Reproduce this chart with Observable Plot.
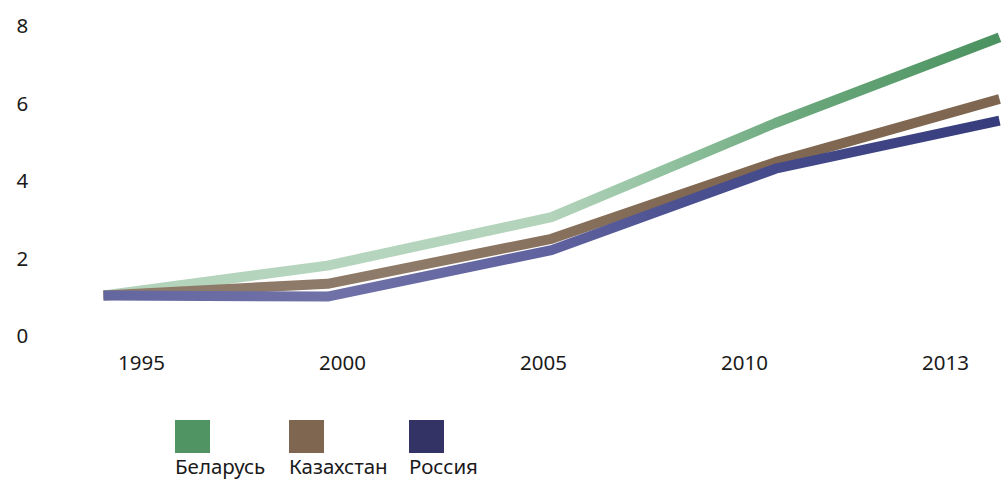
<!DOCTYPE html>
<html>
<head>
<meta charset="utf-8">
<script src="https://cdn.jsdelivr.net/npm/d3@7"></script>
<script src="https://cdn.jsdelivr.net/npm/@observablehq/plot@0.6"></script>
<style>
  body { margin: 0; background: #fff; font-family: "Noto Sans", sans-serif; }
  #wrap { position: relative; width: 1002px; height: 480px; }
  #wrap svg { position: absolute; left: 0; top: 0; }
  #legend { position: absolute; left: 0; top: 420px; width: 1002px; }
  .item { position: absolute; top: 0; }
  .sw { width: 35px; height: 33px; }
  .lab { font-size: 20.5px; color: #1a1a1a; margin-top: 1px; white-space: nowrap; line-height: 24px; }
</style>
</head>
<body>
<div id="wrap"><div id="legend"></div></div>
<script>
const years = ["1995", "2000", "2005", "2010", "2013"];
const countries = ["Беларусь", "Казахстан", "Россия"];
const belarus = [1.06, 1.83, 3.08, 5.51, 7.72];
const kazakhstan = [1.06, 1.36, 2.52, 4.50, 6.13];
const russia = [1.06, 1.03, 2.23, 4.33, 5.57];
const yTicks = [0, 2, 4, 6, 8];
const colors = ["#4f9462", "#7e6650", "#333366"];

const series = [belarus, kazakhstan, russia];
const table = countries.map((c, i) => years.map((y, j) => ({country: c, year: y, value: series[i][j]})));

const W = 1002, H = 390;
const gradIds = ["g-bel", "g-kaz", "g-rus"];
const gradStops = [
  [["0", "#b2d3ba"], ["0.25", "#b6d5be"], ["0.5", "#b3d3bb"], ["0.63", "#91c19f"], ["0.78", "#6aa77b"], ["1", "#4b9260"]],
  [["0", "#8e7a68"], ["0.35", "#8e7a68"], ["0.65", "#806853"], ["1", "#7e6650"]],
  [["0", "#6466a0"], ["0.25", "#6f71a7"], ["0.5", "#5f629e"], ["0.65", "#4b5090"], ["1", "#373d7c"]]
];

const fontStyle = {fontFamily: "'Noto Sans', sans-serif", fontSize: "20.5px", color: "#1a1a1a", background: "transparent"};

const chart = Plot.plot({
  width: W,
  height: H,
  marginLeft: 101,
  marginRight: 2,
  marginTop: 26,
  marginBottom: H - 336,
  style: fontStyle,
  x: {type: "point", domain: years, padding: 0, axis: null},
  y: {domain: [0, 8]},
  marks: [
    Plot.axisY({ticks: yTicks, tickSize: 0, tickPadding: 0, textAnchor: "start", dx: -85, label: null}),
    ...table.map((d, i) => Plot.line(d, {x: "year", y: "value", stroke: `url(#${gradIds[i]})`, strokeWidth: 10, strokeLinecap: "butt", strokeLinejoin: "miter"}))
  ]
});

const defs = d3.select(chart).insert("defs", ":first-child");
gradIds.forEach((id, i) => {
  const g = defs.append("linearGradient").attr("id", id).attr("x1", 0).attr("x2", 1).attr("y1", 0).attr("y2", 0);
  gradStops[i].forEach(([o, c]) => g.append("stop").attr("offset", o).attr("stop-color", c));
});

const xAxisPlot = Plot.plot({
  width: W,
  height: H,
  marginLeft: 141,
  marginRight: W - 945,
  marginTop: 26,
  marginBottom: H - 336,
  style: fontStyle,
  x: {type: "point", domain: years, padding: 0},
  y: {domain: [0, 8], axis: null},
  marks: [
    Plot.axisX({tickSize: 0, tickPadding: 19, label: null})
  ]
});

const wrap = document.getElementById("wrap");
wrap.insertBefore(xAxisPlot, wrap.firstChild);
wrap.insertBefore(chart, wrap.firstChild);

const legend = document.getElementById("legend");
const legendX = [175, 289, 409];
countries.forEach((c, i) => {
  const item = document.createElement("div");
  item.className = "item";
  item.style.left = legendX[i] + "px";
  item.innerHTML = `<div class="sw" style="background:${colors[i]}"></div><div class="lab">${c}</div>`;
  legend.appendChild(item);
});
</script>
</body>
</html>
